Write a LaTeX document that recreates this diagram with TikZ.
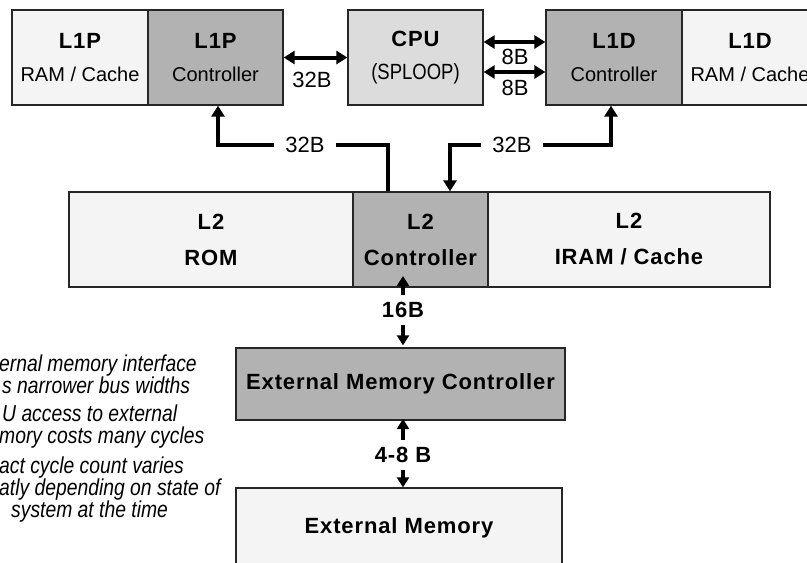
\documentclass[tikz,border=0pt]{standalone}
\usepackage{fontspec}
\setmainfont{Liberation Sans}[BoldFeatures={LetterSpace=4}]
\newfontfamily\narrowfont[FakeStretch=0.84]{Liberation Sans}
\usetikzlibrary{arrows.meta,positioning}

\definecolor{memfill}{HTML}{F4F4F4}
\definecolor{ctlfill}{HTML}{B2B2B2}
\definecolor{cpufill}{HTML}{DCDCDC}

\begin{document}
\begin{tikzpicture}[x=1pt,y=-1pt]
\tikzstyle{unit}=[draw=black!85, line width=1.3pt, inner sep=0pt, align=center,
font=\fontsize{20}{33}\selectfont]
\tikzstyle{memory}=[unit, fill=memfill]
\tikzstyle{ctrl}=[unit, fill=ctlfill]
\tikzstyle{core}=[unit, fill=cpufill]
\tikzstyle{width}=[inner sep=3pt, font=\fontsize{22}{24}\selectfont]
\tikzstyle{boldwidth}=[inner xsep=3pt, inner ysep=7pt, font=\fontsize{22}{24}\selectfont\bfseries]
\tikzstyle{note}=[inner sep=0pt, align=left, font=\narrowfont\itshape\fontsize{23}{22}\selectfont]
\tikzstyle{bus}=[line width=4pt, {Triangle[length=11pt,width=13pt]}-{Triangle[length=11pt,width=13pt]}]
\tikzstyle{upbus}=[line width=4pt, -{Triangle[length=11pt,width=13pt]}]
\tikzstyle{tip}=[line width=4pt, -{Triangle[length=10pt,width=12pt]}]

\useasboundingbox (0,0) rectangle (807,563);
\fill[white] (0,0) rectangle (807,563);
\clip (0,0) rectangle (807,563);

% top row
\node[memory, minimum width=136pt, minimum height=95pt] at (80,57.5) (l1pram)
{{\fontsize{22}{33}\selectfont\bfseries L1P}\\RAM / Cache};
\node[ctrl, minimum width=135pt, minimum height=95pt, right of =l1pram, node distance=135.5pt] (l1pctl)
{{\fontsize{22}{33}\selectfont\bfseries L1P}\\Controller};
\node[core, minimum width=135pt, minimum height=95pt, right of =l1pctl, node distance=200pt] (cpu)
{{\fontsize{22}{29}\selectfont\bfseries CPU}\\{\narrowfont\fontsize{22}{29}\selectfont (SPLOOP)}};
\node[ctrl, minimum width=136pt, minimum height=95pt, right of =cpu, node distance=198.5pt] (l1dctl)
{{\fontsize{22}{33}\selectfont\bfseries L1D}\\Controller};
\node[memory, minimum width=136pt, minimum height=95pt, right of =l1dctl, node distance=136pt] (l1dram)
{{\fontsize{22}{33}\selectfont\bfseries L1D}\\RAM / Cache};

% L2 row
\node[ctrl, minimum width=135pt, minimum height=95pt, font=\fontsize{22}{36}\selectfont\bfseries] at (420.5,239.5) (l2ctl)
{L2\\Controller};
\node[memory, minimum width=284pt, minimum height=95pt, font=\fontsize{22}{36}\selectfont\bfseries, left of =l2ctl, node distance=209.5pt] (l2rom)
{L2\\ROM};
\node[memory, minimum width=282pt, minimum height=95pt, font=\fontsize{22}{36}\selectfont\bfseries, right of =l2ctl, node distance=208.5pt] (l2ram)
{L2\\IRAM / Cache};

% external side
\node[ctrl, minimum width=329pt, minimum height=72pt, font=\fontsize{22}{26}\selectfont\bfseries] at (400.5,384) (emc)
{External Memory Controller};
\node[memory, minimum width=326pt, minimum height=80pt, font=\fontsize{22}{26}\selectfont\bfseries] at (399,528) (extmem)
{External Memory};

% buses
\draw[bus] (l1pctl) -- (cpu);
\node[width] at (312,80) (w32a) {32B};
\draw[bus] ([yshift=15.5pt]cpu.east) -- ([yshift=15.5pt]l1dctl.west);
\draw[bus] ([yshift=-14.5pt]cpu.east) -- ([yshift=-14.5pt]l1dctl.west);
\node[width] at (515,57) (w8a) {8B};
\node[width] at (515,88) (w8b) {8B};

\coordinate (l1pbend) at (305,145);
\coordinate (l1dbend) at (512,145);
\draw[upbus] ([xshift=-32.5pt]l2ctl.north) |- (l1pbend) -| ([xshift=2.5pt]l1pctl.south);
\draw[bus] ([xshift=-3pt]l1dctl.south) |- (l1dbend) -| ([xshift=29.5pt]l2ctl.north);
\node[width, fill=white, inner xsep=11pt] at (l1pbend) (w32b) {32B};
\node[width, fill=white, inner xsep=11pt] at (l1dbend) (w32c) {32B};

\node[boldwidth] at (403,310) (w16) {16B};
\draw[tip] (w16.north) -- ++(0,-19);
\draw[tip, shorten >=2pt] (w16.south) -- (w16.south |- emc.north);
\node[boldwidth] at (403,455) (w48) {4-8 B};
\draw[tip] (w48.north) -- ++(0,-21);
\draw[tip] (w48.south) -- (w48.south |- extmem.north);

% notes
\node[note, anchor=west] at (-1,374) (note1) {ernal memory interface\\\hspace*{3pt}s narrower bus widths};
\node[note, anchor=west] at (-1,427) (note2) {\hspace*{3pt}U access to external\\mory costs many cycles};
\node[note, anchor=west] at (-1,490) (note3) {act cycle count varies\\atly depending on state of\\\hspace*{12pt}system at the time};

\end{tikzpicture}
\end{document}
